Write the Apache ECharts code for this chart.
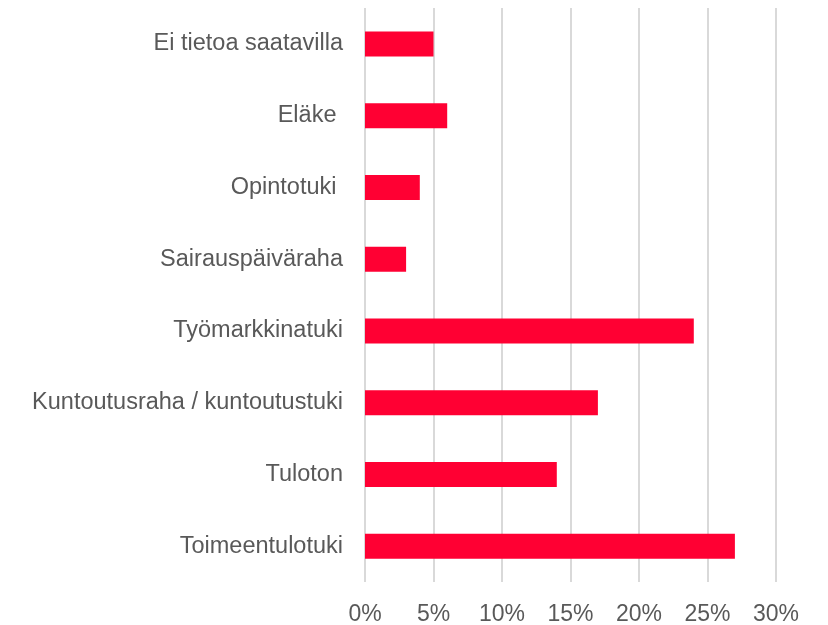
<!DOCTYPE html>
<html>
<head>
<meta charset="utf-8">
<script src="https://cdn.jsdelivr.net/npm/echarts@6/dist/echarts.min.js"></script>
<style>
  html, body { margin: 0; padding: 0; background: #fff; }
  #main { width: 828px; height: 625px; }
</style>
</head>
<body>
<div id="main"></div>
<script>
// categories from bottom to top
var categories = ['Toimeentulotuki', 'Tuloton', 'Kuntoutusraha / kuntoutustuki', 'Työmarkkinatuki',
    'Sairauspäiväraha', 'Opintotuki ', 'Eläke ', 'Ei tietoa saatavilla'];
var values = [27, 14, 17, 24, 3, 4, 6, 5];

var myChart = echarts.init(document.getElementById('main'));

var option = {
    backgroundColor: '#ffffff',
    animation: false,
    grid: {
        left: 365,
        right: 52,
        top: 8,
        bottom: 43,
        outerBoundsMode: 'none'
    },
    xAxis: {
        type: 'value',
        min: 0,
        max: 30,
        interval: 5,
        axisLine: { show: false },
        axisTick: { show: false },
        splitLine: { lineStyle: { color: '#d9d9d9', width: 2 } },
        axisLabel: {
            formatter: '{value}%',
            color: '#595959',
            fontSize: 23,
            fontFamily: 'Liberation Sans',
            margin: 21
        }
    },
    yAxis: {
        type: 'category',
        data: categories,
        axisLine: { show: false },
        axisTick: { show: false },
        axisLabel: {
            color: '#595959',
            fontSize: 23.5,
            fontFamily: 'Liberation Sans',
            margin: 22
        }
    },
    series: [{
        type: 'bar',
        data: values,
        barWidth: 25,
        itemStyle: { color: '#ff0033' }
    }]
};

myChart.setOption(option);
</script>
</body>
</html>
